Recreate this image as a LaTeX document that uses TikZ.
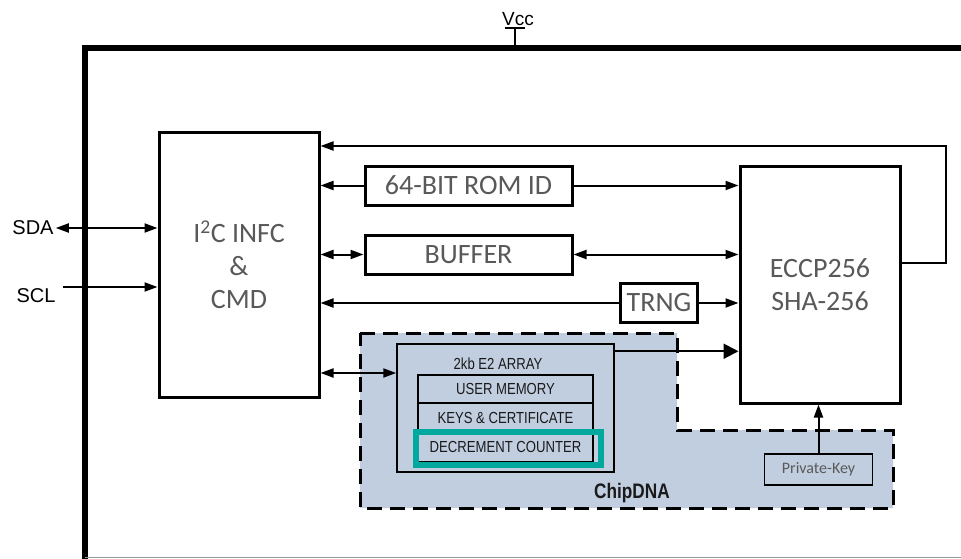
\documentclass[tikz,border=0pt]{standalone}
\usepackage{fontspec}
\setmainfont{Carlito}
\newfontfamily\arialfont{Liberation Sans}
\newfontfamily\narrowfont[FakeStretch=0.82]{Liberation Sans}
\usetikzlibrary{arrows.meta}
\definecolor{labelgray}{RGB}{89,89,89}
\definecolor{dnafill}{RGB}{193,206,224}
\definecolor{tealc}{RGB}{0,168,157}
\definecolor{smalltext}{RGB}{26,26,26}
\begin{document}
\begin{tikzpicture}[x=1pt,y=-1pt,
  >={Triangle[length=13pt,width=9pt]},
  bigbox/.style={draw, line width=3pt, inner sep=0pt, align=center, text=labelgray, font=\fontsize{28}{33}\selectfont},
  smallbox/.style={draw, line width=1.5pt, inner sep=0pt},
  rowbox/.style={draw, line width=1.5pt, inner sep=0pt, minimum width=175pt, text=smalltext, font=\narrowfont\fontsize{16}{18}\selectfont},
  wire/.style={line width=2pt},
  pinlabel/.style={font=\arialfont\fontsize{20}{22}\selectfont, inner sep=0pt, text=black}
]
\useasboundingbox (0,0) rectangle (961,558);
\clip (0,0) rectangle (961,558);
\fill[white] (0,0) rectangle (961,558);

% outer chip border
\coordinate (obl) at (85,575);
\coordinate (otl) at (85,48);
\coordinate (otr) at (980,48);
\draw[line width=6pt, line join=miter] (obl) -- (otl) -- (otr);
\coordinate (bl) at (85,557);
\coordinate (br) at (961,557);
\draw[line width=1pt, black!40] (bl) -- (br);

% Vcc
\node[font=\arialfont\fontsize{19}{21}\selectfont, inner sep=0pt] (vcc) at (518,19) {Vcc};
\coordinate (vbarL) at (505,28);
\coordinate (vbarR) at (525,28);
\coordinate (vbarM) at (515,28);
\coordinate (vbarB) at (515,48);
\draw[line width=1.8pt] (vbarL) -- (vbarR);
\draw[line width=1.8pt] (vbarM) -- (vbarB);

% ChipDNA region
\draw[line width=3pt, dash pattern=on 15pt off 8pt, fill=dnafill]
  (360,333) -- (677,333) -- (677,430) -- (893,430) -- (893,508) -- (360,508) -- cycle;
\node[font=\narrowfont\bfseries\fontsize{21}{23}\selectfont, inner sep=0pt, text=smalltext] (dna) at (632,493) {ChipDNA};

% main blocks
\node[bigbox, minimum width=160pt, minimum height=265pt, fill=white] (i2c) at (239,264.5)
  {I\textsuperscript{2}C INFC\\\&\\CMD};
\node[bigbox, minimum width=207pt, minimum height=39pt, fill=white] (rom) at (468.5,185.5) {64-BIT ROM ID};
\node[bigbox, minimum width=207pt, minimum height=39pt, fill=white] (buf) at (468.5,254.5) {BUFFER};
\node[bigbox, minimum width=77pt, minimum height=39pt, fill=white] (trng) at (659,303) {TRNG};
\node[bigbox, minimum width=160pt, minimum height=237pt, fill=white] (ecc) at (820,284.5) {ECCP256\\SHA-256};

% E2 array
\node[smallbox, minimum width=217pt, minimum height=128pt] (e2) at (505.5,408) {};
\node[font=\narrowfont\fontsize{16}{18}\selectfont, inner sep=0pt, text=smalltext] (e2t) at (498,364) {2kb E2 ARRAY};
\node[rowbox, minimum height=28pt] (user) at (505.5,389) {USER MEMORY};
\node[rowbox, minimum height=29pt] (keys) at (505.5,417.5) {KEYS \& CERTIFICATE};
\node[rowbox, minimum height=30pt] (dec) at (505.5,447) {DECREMENT COUNTER};
\coordinate (tealA) at (415.5,431.5);
\coordinate (tealB) at (601,465);
\draw[line width=6pt, tealc] (tealA) rectangle (tealB);

% private key
\node[smallbox, minimum width=108pt, minimum height=31pt, text=labelgray, font=\fontsize{16}{18}\selectfont] (pk) at (818.5,469.5) {Private-Key};

% pins
\node[pinlabel] (sda) at (33,228) {SDA};
\node[pinlabel] (scl) at (36,296) {SCL};
\coordinate (sclS) at (63,287);
\draw[wire,<->] ([xshift=2pt]sda.east) -- (sda.east -| i2c.west);
\draw[wire,->] (sclS) -- (sclS -| i2c.west);

% feedback loop
\coordinate (fbT) at (946,146);
\coordinate (fbB) at (946,263);
\draw[wire,->] (fbB -| ecc.east) -- (fbB) -- (fbT) -- (fbT -| i2c.east);

% ROM ID
\draw[wire,->] (rom.west) -- (rom.west -| i2c.east);
\draw[wire,->] (rom.east) -- (rom.east -| ecc.west);
% BUFFER
\draw[wire,<->] (buf.west -| i2c.east) -- (buf.west);
\draw[wire,<->] (buf.east) -- (buf.east -| ecc.west);
% TRNG
\draw[wire,->] (trng.west) -- (trng.west -| i2c.east);
\draw[wire,->] (trng.east) -- (trng.east -| ecc.west);
% I2C <-> E2 array
\coordinate (e2in) at ([yshift=35pt]e2.west);
\draw[wire,<->] (e2in -| i2c.east) -- (e2in);
% E2 array -> ECC
\coordinate (e2out) at ([yshift=-8pt]e2.north east);
\draw[wire,-{Triangle[length=15pt,width=15pt]}] (e2out) -- (e2out -| ecc.west);
% private key -> ECC
\draw[wire,->] (pk.north) -- (pk.north |- ecc.south);
\end{tikzpicture}
\end{document}
